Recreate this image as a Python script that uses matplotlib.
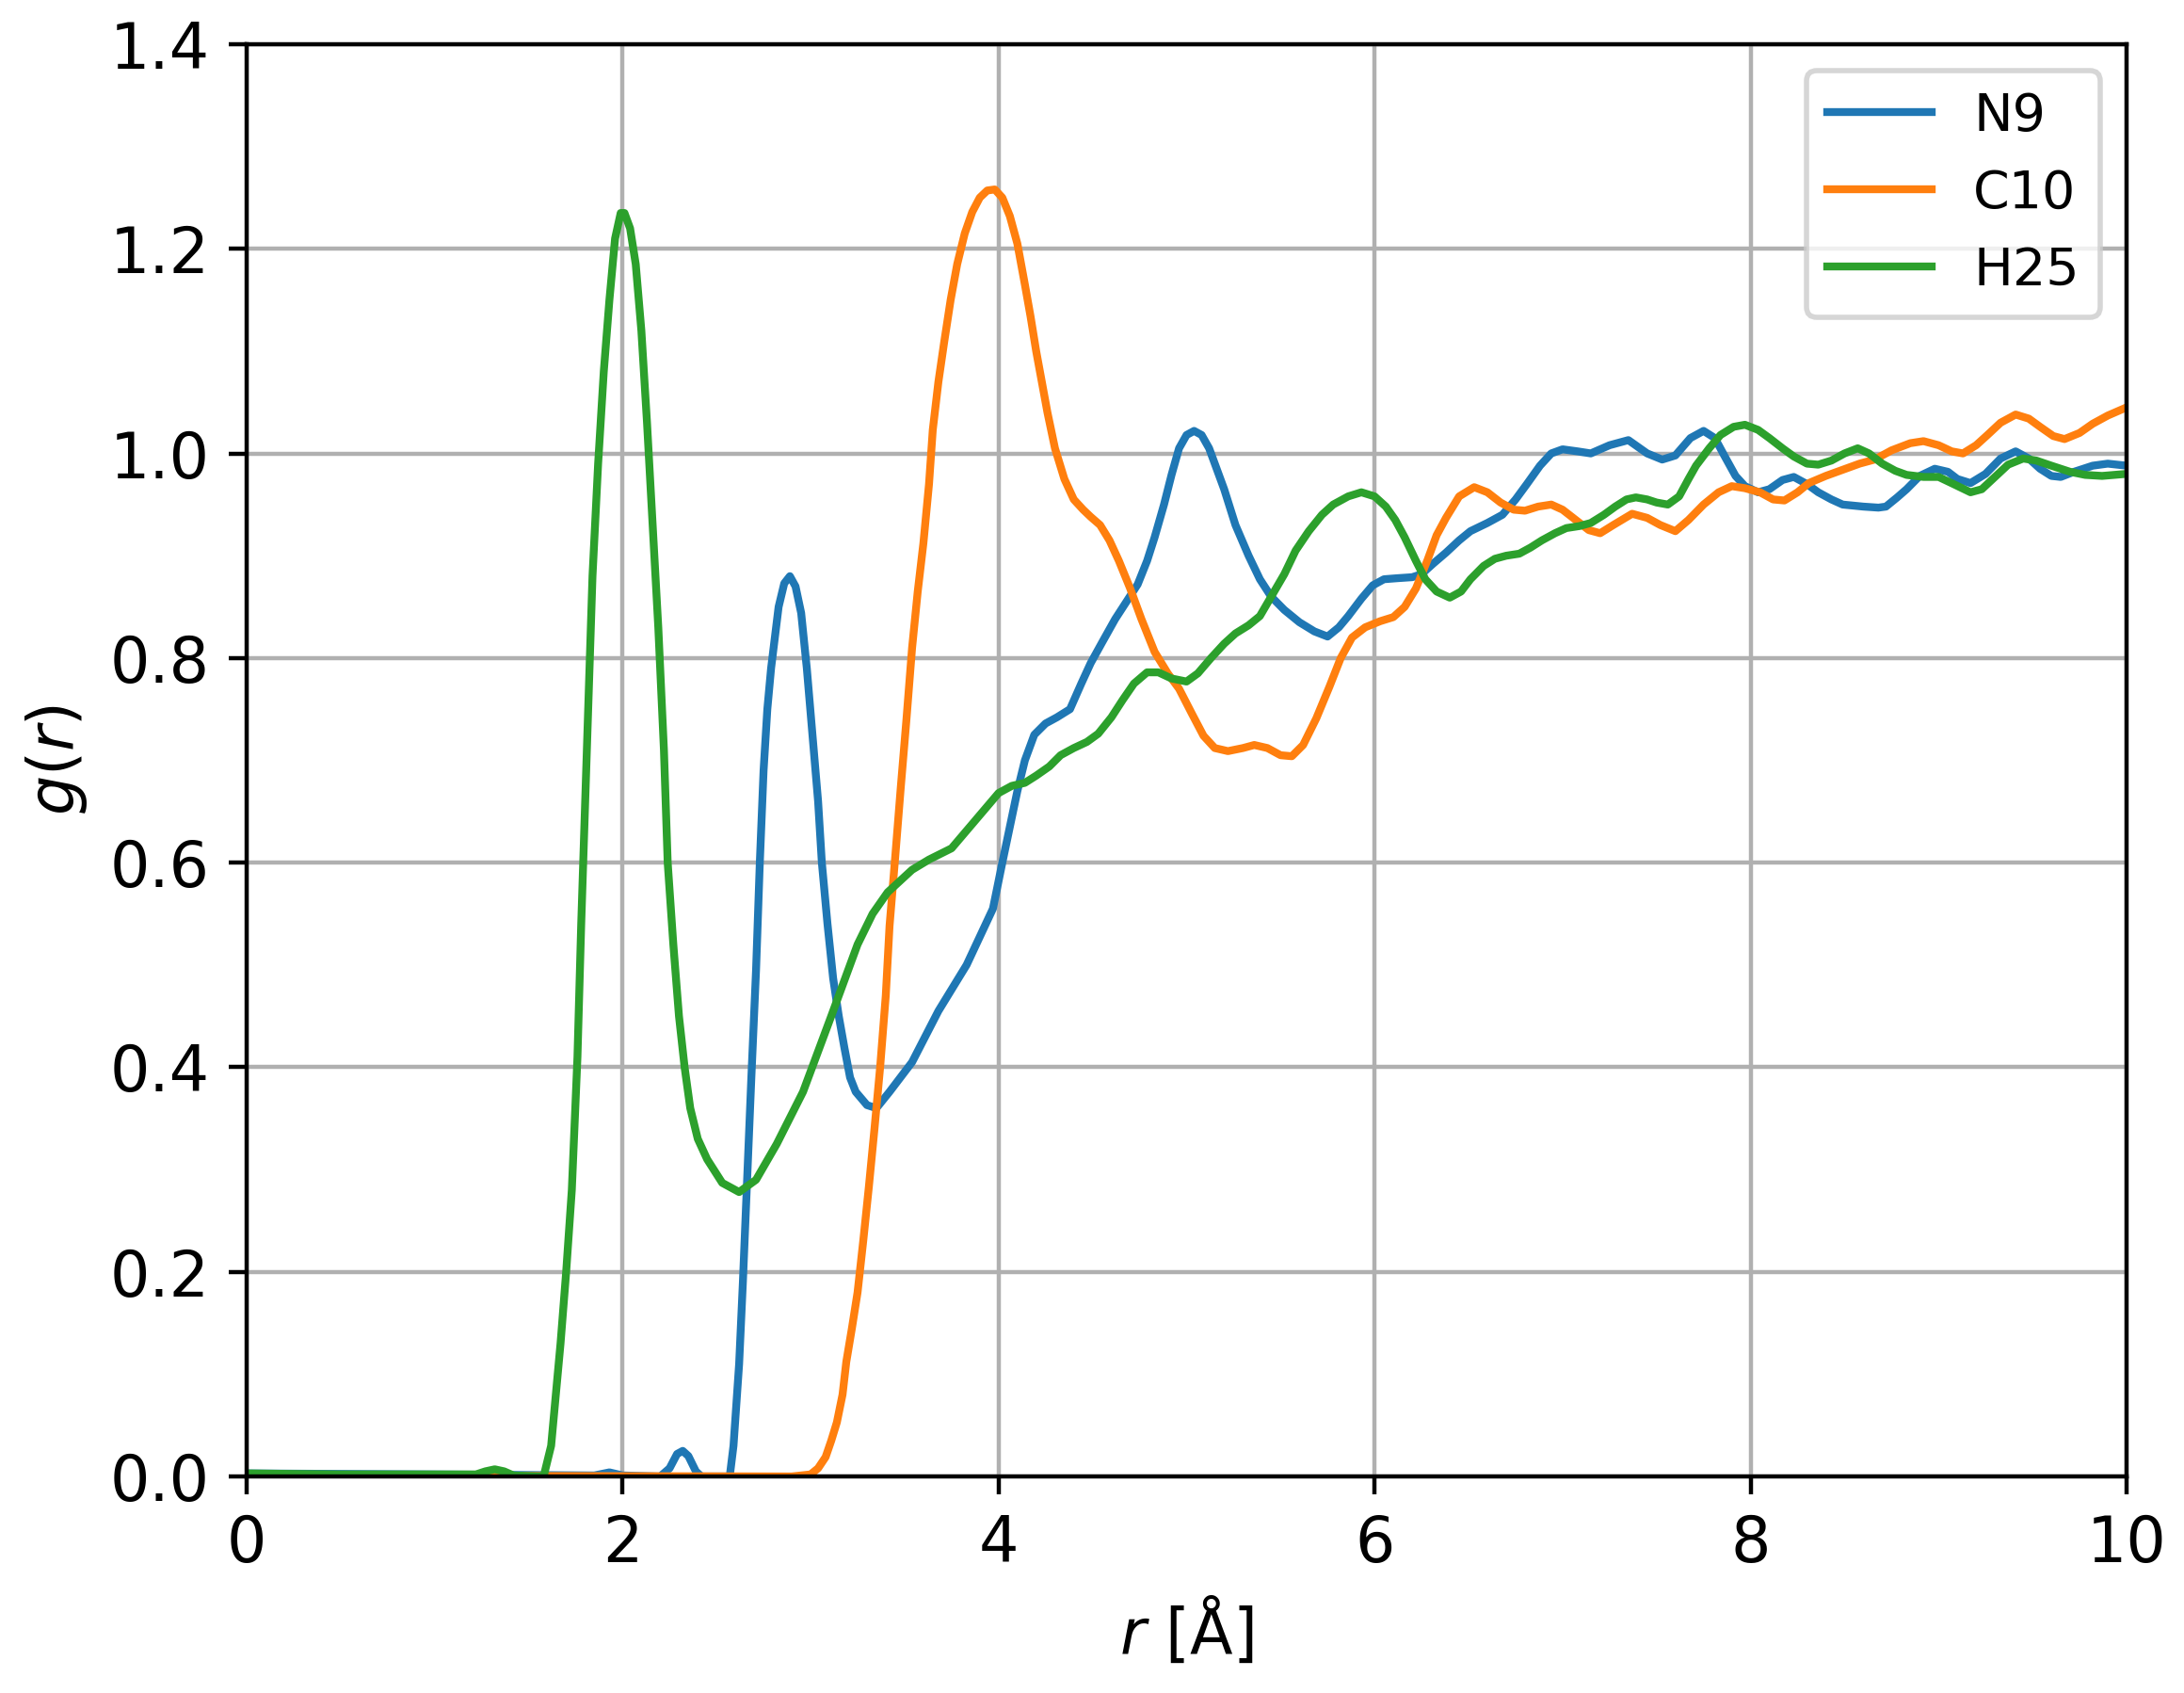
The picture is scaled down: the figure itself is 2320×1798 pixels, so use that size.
import matplotlib
matplotlib.use("Agg")
import matplotlib.pyplot as plt

# ---- data ----
r_N9 = [0.0, 1.0, 1.85, 1.93, 2.0, 2.2, 2.25, 2.29, 2.32, 2.35, 2.39, 2.42, 2.57, 2.59, 2.62, 2.64, 2.66,
        2.685, 2.71, 2.73, 2.75, 2.77, 2.79, 2.83, 2.86, 2.89, 2.92, 2.95, 2.98, 3.01, 3.04, 3.06, 3.09,
        3.12, 3.15, 3.18, 3.21, 3.24, 3.30, 3.35, 3.42, 3.54, 3.68, 3.83, 3.97, 4.02, 4.06, 4.10, 4.14,
        4.19, 4.25, 4.31, 4.38, 4.44, 4.49, 4.55, 4.62, 4.68, 4.74, 4.79, 4.83, 4.88, 4.92, 4.96, 5.0,
        5.04, 5.08, 5.12, 5.15, 5.20, 5.26, 5.33, 5.39, 5.45, 5.52, 5.60, 5.68, 5.75, 5.81, 5.86, 5.93,
        5.99, 6.05, 6.12, 6.20, 6.25, 6.31, 6.38, 6.45, 6.51, 6.60, 6.68, 6.75, 6.81, 6.88, 6.94, 7.0,
        7.08, 7.15, 7.25, 7.35, 7.45, 7.53, 7.60, 7.68, 7.75, 7.81, 7.86, 7.92, 7.97, 8.04, 8.10, 8.17,
        8.23, 8.30, 8.36, 8.43, 8.49, 8.60, 8.68, 8.72, 8.78, 8.83, 8.90, 8.98, 9.05, 9.10, 9.17, 9.25,
        9.33, 9.41, 9.48, 9.54, 9.60, 9.65, 9.72, 9.82, 9.90, 10.0]
g_N9 = [0.003, 0.002, 0.001, 0.004, 0.001, 0.0, 0.008, 0.022, 0.025, 0.02, 0.005, 0.0, 0.0, 0.03, 0.11,
        0.19, 0.28, 0.39, 0.495, 0.60, 0.69, 0.75, 0.79, 0.85, 0.873, 0.88, 0.87, 0.844, 0.79, 0.725,
        0.66, 0.60, 0.54, 0.487, 0.45, 0.419, 0.39, 0.376, 0.363, 0.36, 0.376, 0.405, 0.455, 0.50, 0.555,
        0.60, 0.635, 0.67, 0.70, 0.725, 0.736, 0.742, 0.75, 0.775, 0.795, 0.815, 0.838, 0.855, 0.872,
        0.895, 0.918, 0.95, 0.979, 1.005, 1.018, 1.022, 1.018, 1.005, 0.99, 0.965, 0.93, 0.90, 0.877,
        0.86, 0.847, 0.835, 0.826, 0.821, 0.83, 0.841, 0.858, 0.871, 0.877, 0.878, 0.879, 0.882, 0.892,
        0.903, 0.915, 0.924, 0.932, 0.94, 0.955, 0.97, 0.988, 1.0, 1.004, 1.002, 1.0, 1.008, 1.013, 1.0,
        0.994, 0.998, 1.015, 1.022, 1.015, 0.998, 0.978, 0.968, 0.962, 0.965, 0.974, 0.977, 0.97, 0.962,
        0.955, 0.95, 0.948, 0.947, 0.948, 0.957, 0.965, 0.978, 0.985, 0.982, 0.975, 0.971, 0.98, 0.995,
        1.002, 0.995, 0.985, 0.978, 0.977, 0.982, 0.988, 0.99, 0.988]

r_C10 = [0.0, 2.9, 3.0, 3.04, 3.08, 3.11, 3.14, 3.17, 3.19, 3.22, 3.25, 3.28, 3.31, 3.34, 3.37, 3.40, 3.42,
         3.45, 3.48, 3.51, 3.54, 3.57, 3.60, 3.63, 3.65, 3.68, 3.71, 3.745, 3.78, 3.82, 3.86, 3.90, 3.94,
         3.98, 4.02, 4.06, 4.10, 4.14, 4.17, 4.20, 4.23, 4.26, 4.30, 4.35, 4.40, 4.45, 4.49, 4.54, 4.59,
         4.64, 4.70, 4.76, 4.83, 4.90, 4.96, 5.03, 5.09, 5.15, 5.22, 5.30, 5.36, 5.43, 5.50, 5.56, 5.62,
         5.69, 5.76, 5.82, 5.88, 5.95, 6.03, 6.10, 6.16, 6.22, 6.28, 6.33, 6.38, 6.45, 6.53, 6.60, 6.67,
         6.74, 6.80, 6.87, 6.94, 7.0, 7.07, 7.14, 7.20, 7.27, 7.37, 7.45, 7.52, 7.60, 7.67, 7.75, 7.83,
         7.90, 7.97, 8.05, 8.12, 8.18, 8.25, 8.31, 8.40, 8.49, 8.58, 8.66, 8.75, 8.85, 8.92, 9.0, 9.07,
         9.13, 9.20, 9.26, 9.33, 9.41, 9.48, 9.54, 9.61, 9.67, 9.75, 9.82, 9.90, 10.0]
g_C10 = [0.001, 0.0, 0.002, 0.008, 0.019, 0.035, 0.053, 0.08, 0.112, 0.145, 0.18, 0.23, 0.283, 0.34, 0.40,
         0.47, 0.538, 0.605, 0.674, 0.74, 0.81, 0.865, 0.912, 0.97, 1.023, 1.07, 1.108, 1.15, 1.185, 1.215,
         1.236, 1.25, 1.257, 1.258, 1.25, 1.232, 1.205, 1.165, 1.134, 1.10, 1.07, 1.04, 1.005, 0.975, 0.955,
         0.945, 0.938, 0.93, 0.915, 0.895, 0.868, 0.838, 0.806, 0.785, 0.77, 0.745, 0.724, 0.712, 0.709,
         0.712, 0.715, 0.712, 0.705, 0.704, 0.715, 0.741, 0.772, 0.80, 0.82, 0.83, 0.836, 0.84, 0.85, 0.868,
         0.895, 0.92, 0.937, 0.958, 0.967, 0.962, 0.952, 0.945, 0.944, 0.948, 0.95, 0.945, 0.935, 0.925,
         0.922, 0.93, 0.941, 0.937, 0.93, 0.924, 0.935, 0.95, 0.962, 0.968, 0.966, 0.962, 0.955, 0.954,
         0.962, 0.971, 0.978, 0.984, 0.99, 0.994, 1.003, 1.01, 1.012, 1.008, 1.002, 1.0, 1.008, 1.018, 1.03,
         1.038, 1.034, 1.026, 1.017, 1.014, 1.02, 1.029, 1.037, 1.045]

r_H25 = [0.0, 0.5, 1.0, 1.22, 1.27, 1.32, 1.37, 1.42, 1.55, 1.58, 1.62, 1.67, 1.70, 1.73, 1.76, 1.78, 1.81,
         1.84, 1.87, 1.90, 1.93, 1.96, 1.99, 2.01, 2.04, 2.07, 2.10, 2.13, 2.16, 2.19, 2.22, 2.24, 2.27,
         2.30, 2.33, 2.36, 2.40, 2.45, 2.53, 2.62, 2.71, 2.82, 2.96, 3.11, 3.20, 3.25, 3.33, 3.41, 3.54,
         3.63, 3.75, 3.88, 4.0, 4.07, 4.14, 4.20, 4.27, 4.33, 4.40, 4.47, 4.53, 4.60, 4.66, 4.72, 4.79,
         4.85, 4.92, 5.0, 5.06, 5.13, 5.20, 5.26, 5.33, 5.39, 5.45, 5.52, 5.58, 5.65, 5.72, 5.78, 5.86,
         5.93, 6.0, 6.06, 6.11, 6.16, 6.22, 6.27, 6.33, 6.40, 6.46, 6.51, 6.58, 6.64, 6.70, 6.77, 6.83,
         6.89, 6.96, 7.02, 7.09, 7.15, 7.22, 7.28, 7.34, 7.39, 7.45, 7.50, 7.56, 7.62, 7.67, 7.71, 7.78,
         7.84, 7.91, 7.97, 8.04, 8.10, 8.17, 8.23, 8.30, 8.36, 8.43, 8.50, 8.57, 8.63, 8.70, 8.77, 8.83,
         8.92, 9.0, 9.08, 9.17, 9.23, 9.30, 9.37, 9.45, 9.52, 9.60, 9.70, 9.78, 9.87, 10.0]
g_H25 = [0.003, 0.002, 0.002, 0.002, 0.005, 0.007, 0.005, 0.001, 0.0, 0.0, 0.03, 0.13, 0.20, 0.28, 0.41,
         0.54, 0.71, 0.88, 0.99, 1.08, 1.15, 1.21, 1.235, 1.235, 1.22, 1.185, 1.12, 1.03, 0.93, 0.83, 0.71,
         0.60, 0.52, 0.45, 0.40, 0.36, 0.33, 0.31, 0.287, 0.278, 0.29, 0.325, 0.376, 0.45, 0.495, 0.52,
         0.55, 0.571, 0.593, 0.603, 0.614, 0.642, 0.668, 0.675, 0.678, 0.685, 0.694, 0.705, 0.712, 0.718,
         0.726, 0.742, 0.759, 0.775, 0.786, 0.786, 0.78, 0.777, 0.785, 0.80, 0.814, 0.824, 0.832, 0.841,
         0.86, 0.882, 0.905, 0.924, 0.94, 0.95, 0.958, 0.962, 0.958, 0.948, 0.935, 0.918, 0.895, 0.877,
         0.865, 0.859, 0.865, 0.877, 0.89, 0.897, 0.9, 0.902, 0.908, 0.915, 0.922, 0.927, 0.929, 0.932,
         0.94, 0.948, 0.955, 0.957, 0.955, 0.952, 0.95, 0.958, 0.975, 0.988, 1.005, 1.018, 1.026, 1.028,
         1.023, 1.015, 1.005, 0.997, 0.99, 0.989, 0.993, 1.0, 1.005, 1.0, 0.99, 0.983, 0.979, 0.977, 0.977,
         0.97, 0.962, 0.965, 0.977, 0.989, 0.995, 0.993, 0.988, 0.982, 0.979, 0.978, 0.98]

labels = ["N9", "C10", "H25"]
x_ticks = [0, 2, 4, 6, 8, 10]
y_ticks = [0.0, 0.2, 0.4, 0.6, 0.8, 1.0, 1.2, 1.4]

fig = plt.figure(figsize=(5.8, 4.495), dpi=400)
fig.subplots_adjust(left=0.1129, right=0.9737, bottom=0.1279, top=0.9739)
ax = fig.add_subplot(111)

ax.plot(r_N9, g_N9, color="#1f77b4", label=labels[0], solid_joinstyle="round")
ax.plot(r_C10, g_C10, color="#ff7f0e", label=labels[1], solid_joinstyle="round")
ax.plot(r_H25, g_H25, color="#2ca02c", label=labels[2], solid_joinstyle="round")

ax.set_xlim(0, 10)
ax.set_ylim(0, 1.4)
ax.set_xticks(x_ticks)
ax.set_yticks(y_ticks)
ax.tick_params(labelsize=12)
ax.grid(True)
ax.set_xlabel(r"$r$ [Å]", fontsize=12)
ax.set_ylabel(r"$g(r)$", fontsize=12)
ax.legend(loc="upper right", fontsize=10)

fig.savefig("out.png", dpi=400)
